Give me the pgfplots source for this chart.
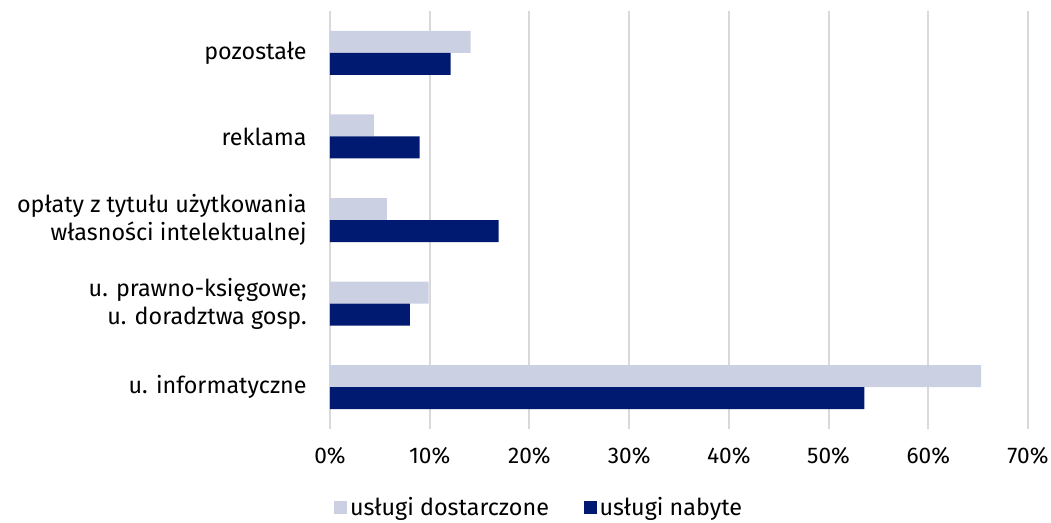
\documentclass[border=0pt]{standalone}
\usepackage{pgfplots}
\pgfplotsset{compat=1.18}
\usepackage{fontspec}
\setmainfont{Fira Sans}
\definecolor{light}{HTML}{CBD1E3}
\definecolor{dark}{HTML}{001A72}
\definecolor{gridc}{HTML}{D9D9D9}
\begin{document}
\begin{tikzpicture}[x=0.75pt,y=0.75pt]
\useasboundingbox (-330,-93) rectangle (721,429);
\begin{axis}[
  at={(0,0)}, anchor=south west,
  scale only axis,
  width=523.5pt, height=313.5pt,
  xbar,
  y dir=reverse,
  bar width=16.5pt,
  xmin=0, xmax=70,
  ymin=-0.5, ymax=4.5,
  ytick={0,1,2,3,4},
  yticklabels={pozostałe, reklama, {opłaty z tytułu użytkowania\\własności intelektualnej}, {u. prawno-księgowe;\\u. doradztwa gosp.}, u. informatyczne},
  yticklabel style={align=right, font=\fontsize{17.5}{21}\selectfont, xshift=-14pt},
  xtick={0,10,...,70},
  xticklabel={\pgfmathprintnumber{\tick}\%},
  xticklabel style={font=\fontsize{17}{20}\selectfont, yshift=-10pt},
  /pgf/number format/assume math mode=true,
  major tick length=0pt,
  xmajorgrids,
  grid style={gridc, line width=1.5pt},
  axis line style={draw=none},
  legend style={at={(0.3,-0.15)}, anchor=north, draw=none, legend columns=2,
    font=\fontsize{17.5}{20}\selectfont, /tikz/every even column/.append style={column sep=24pt}},
  legend image code/.code={\fill[#1] (0pt,-5pt) rectangle (10pt,5pt);},
]
\addplot[fill=light, draw=none, bar shift=8.25pt] coordinates {(14.1,0) (4.4,1) (5.7,2) (9.9,3) (65.3,4)};
\addplot[fill=dark, draw=none, bar shift=-8.25pt] coordinates {(12.1,0) (9.0,1) (16.9,2) (8.0,3) (53.6,4)};
\legend{usługi dostarczone, usługi nabyte}
\end{axis}
\end{tikzpicture}
\end{document}
